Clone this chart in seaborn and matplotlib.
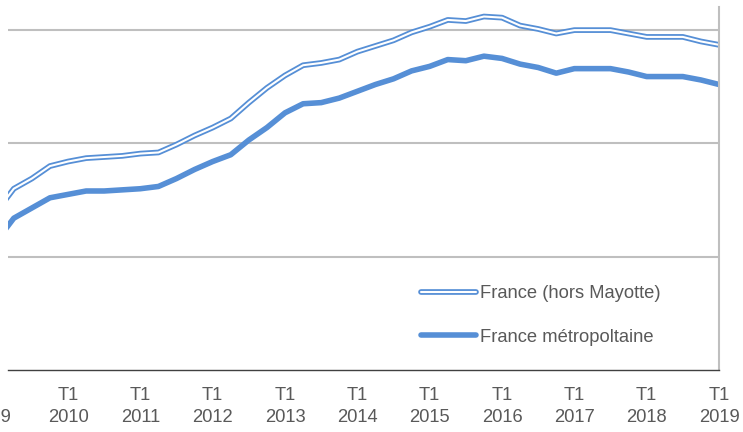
import matplotlib
matplotlib.use('Agg')
import matplotlib.pyplot as plt
import matplotlib.patheffects as pe
import seaborn as sns
import pandas as pd

# Trimestres T1 2009 .. T1 2019
annees = list(range(2009, 2020))
trimestres = [f"T{q} {a}" for a in annees for q in (1, 2, 3, 4)][:41]

france_hors_mayotte = [
    4.39, 4.60, 4.69, 4.80, 4.84, 4.87, 4.88, 4.89, 4.91, 4.92,
    4.99, 5.07, 5.14, 5.22, 5.36, 5.49, 5.60, 5.69, 5.71, 5.74,
    5.81, 5.86, 5.91, 5.98, 6.03, 6.09, 6.08, 6.12, 6.11, 6.04,
    6.01, 5.97, 6.00, 6.00, 6.00, 5.97, 5.94, 5.94, 5.94, 5.90,
    5.87,
]
france_metro = [
    4.13, 4.34, 4.43, 4.52, 4.55, 4.58, 4.58, 4.59, 4.60, 4.62,
    4.69, 4.77, 4.84, 4.90, 5.03, 5.14, 5.27, 5.35, 5.36, 5.40,
    5.46, 5.52, 5.57, 5.64, 5.68, 5.74, 5.73, 5.77, 5.75, 5.70,
    5.67, 5.62, 5.66, 5.66, 5.66, 5.63, 5.59, 5.59, 5.59, 5.56,
    5.52,
]
grid_values = [4, 5, 6]

df = pd.DataFrame({
    "t": range(len(trimestres)),
    "trimestre": trimestres,
    "hors_mayotte": france_hors_mayotte,
    "metro": france_metro,
})

BLUE = "#568fd6"
TEXT = "#595959"
FS = 13.2

sns.set_style("white")
plt.rcParams["font.family"] = ["Liberation Sans", "DejaVu Sans"]

fig = plt.figure(figsize=(7.43, 4.32), dpi=100)
ax = fig.add_axes([8 / 743, 1 - 370 / 432, (719 - 8) / 743, 363 / 432])

sns.lineplot(data=df, x="t", y="hors_mayotte", ax=ax, color="white", lw=1.5,
             solid_joinstyle="round", solid_capstyle="round",
             path_effects=[pe.Stroke(linewidth=4.1, foreground=BLUE), pe.Normal()],
             label="France (hors Mayotte)")
sns.lineplot(data=df, x="t", y="metro", ax=ax, color=BLUE, lw=4.0,
             solid_joinstyle="round", solid_capstyle="round",
             label="France métropoltaine")

ax.set_xlim(0.68, 40)
ax.set_ylim(3, 6.204)
ax.set_axisbelow(True)

# horizontal gridlines, no y labels
ax.set_yticks(grid_values)
ax.tick_params(axis="y", length=0, labelleft=False)
ax.grid(axis="y", color="#BFBFBF", lw=1.5)
ax.grid(axis="x", visible=False)

# x ticks on every T1
t1_idx = [i for i, s in enumerate(trimestres) if s.startswith("T1")]
ax.set_xticks([i for i in t1_idx if i > 0])
ax.set_xticklabels([trimestres[i].replace(" ", "\n") for i in t1_idx if i > 0],
                   fontsize=FS, color=TEXT, linespacing=1.45)
ax.tick_params(axis="x", direction="out", length=3.6, width=1, color="#404040", pad=8.3)
# first label (2009) sits left of the visible area
ax.annotate(trimestres[0].replace(" ", "\n"), xy=(-0.3, 0),
            xycoords=ax.get_xaxis_transform(), xytext=(0, -11.9),
            textcoords="offset points", ha="center", va="top",
            fontsize=FS, color=TEXT, linespacing=1.45, annotation_clip=False)

ax.set_xlabel("")
ax.set_ylabel("")
for side in ("left", "top"):
    ax.spines[side].set_visible(False)
ax.spines["right"].set_color("#BFBFBF")
ax.spines["right"].set_linewidth(1.5)
ax.spines["bottom"].set_color("#404040")
ax.spines["bottom"].set_linewidth(1.0)

ax.legend(loc="center left", bbox_to_anchor=(421 / 743, 1 - 315.5 / 432),
          bbox_transform=fig.transFigure, frameon=False, fontsize=FS,
          labelcolor=TEXT, handlelength=3.0, handletextpad=0.22,
          labelspacing=1.45, borderpad=0, borderaxespad=0)

fig.savefig("out.png", dpi=100)
